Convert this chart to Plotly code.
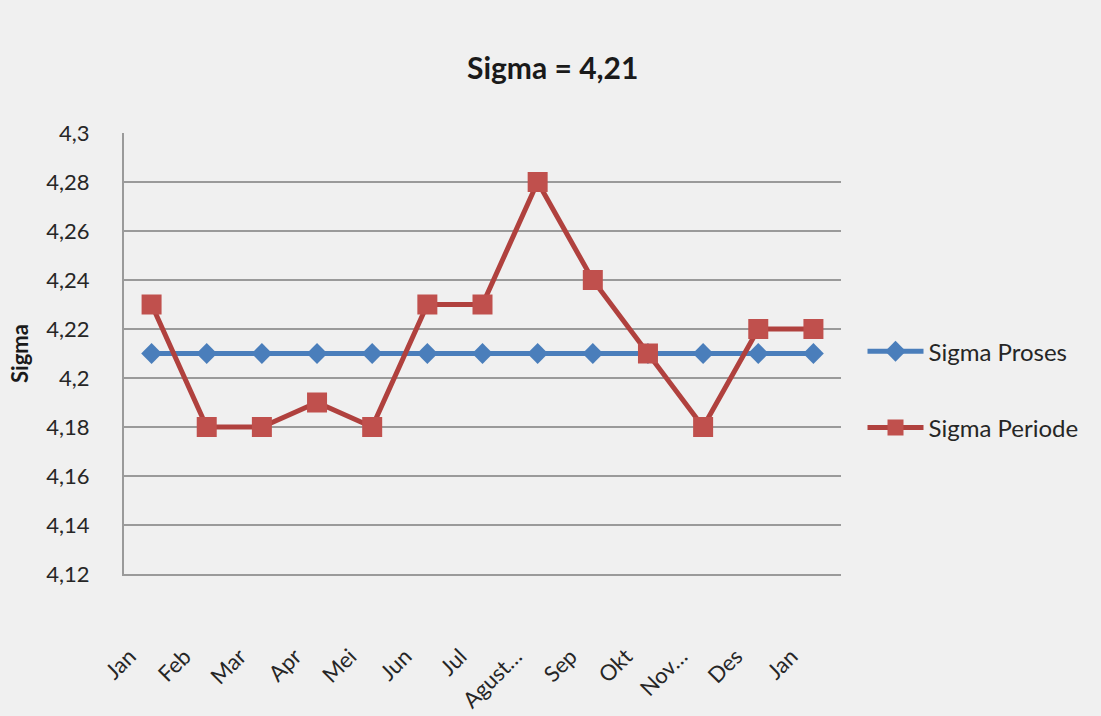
import plotly.graph_objects as go

# Monthly sigma values
months = ["Jan", "Feb", "Mar", "Apr", "Mei", "Jun", "Jul", "Agust…", "Sep", "Okt", "Nov…", "Des", "Jan"]
sigma_proses = [4.21, 4.21, 4.21, 4.21, 4.21, 4.21, 4.21, 4.21, 4.21, 4.21, 4.21, 4.21, 4.21]
sigma_periode = [4.23, 4.18, 4.18, 4.19, 4.18, 4.23, 4.23, 4.28, 4.24, 4.21, 4.18, 4.22, 4.22]

y_ticks = [4.12, 4.14, 4.16, 4.18, 4.20, 4.22, 4.24, 4.26, 4.28, 4.30]
y_tick_labels = ["4,12", "4,14", "4,16", "4,18", "4,2", "4,22", "4,24", "4,26", "4,28", "4,3"]

x_pos = list(range(len(months)))

FONT = "Lato"
TEXT = "#262626"

fig = go.Figure()
fig.add_trace(go.Scatter(
    x=x_pos, y=sigma_proses, name="Sigma Proses", mode="lines+markers",
    line=dict(color="#4a7ebb", width=5),
    marker=dict(symbol="diamond", size=16, color="#4a7ebb"),
    legendgroup="a",
))
fig.add_trace(go.Scatter(
    x=x_pos, y=sigma_periode, name="Sigma Periode", mode="lines+markers",
    line=dict(color="#b0413e", width=5),
    marker=dict(symbol="square", size=20, color="#c0504d"),
    legendgroup="b",
))

fig.update_layout(
    width=1101, height=716,
    margin=dict(l=124, r=260, t=133, b=142),
    paper_bgcolor="#f0f0f0", plot_bgcolor="#f0f0f0",
    font=dict(family=FONT, size=22, color=TEXT),
    title=dict(text="<b>Sigma = 4,21</b>", x=0.502, xref="container", xanchor="center",
               y=1 - 68 / 716, yref="container", yanchor="middle",
               font=dict(family=FONT, size=30, color="#1a1a1a")),
    showlegend=True,
    legend=dict(x=1.03, xanchor="left", y=0.418, yanchor="middle",
                bgcolor="rgba(0,0,0,0)", tracegroupgap=42,
                itemwidth=56, font=dict(family=FONT, size=24, color=TEXT)),
    xaxis=dict(
        range=[-0.5, len(months) - 0.5], tickmode="array", tickvals=x_pos, ticktext=months,
        tickangle=-45, showgrid=False, zeroline=False, automargin=False,
        showline=True, linecolor="#9a9a9a", linewidth=2,
        ticklabelstandoff=59, ticklabelshift=-22,
        tickfont=dict(size=22),
    ),
    yaxis=dict(
        range=[4.12, 4.30], tickmode="array", tickvals=y_ticks, ticktext=y_tick_labels,
        showgrid=True, gridcolor="#9a9a9a", gridwidth=2, zeroline=False, automargin=False,
        showline=True, linecolor="#9a9a9a", linewidth=2,
        ticklabelstandoff=28,
        title=dict(text="<b>Sigma</b>", standoff=12, font=dict(family=FONT, size=22, color="#1a1a1a")),
    ),
)

fig.write_html("out.html")
